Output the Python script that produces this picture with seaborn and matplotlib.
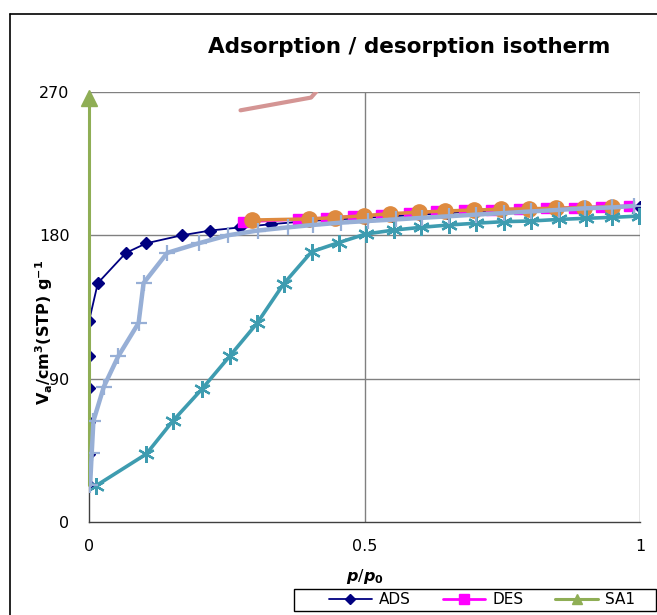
import matplotlib
matplotlib.use("Agg")
import matplotlib.pyplot as plt
from matplotlib.lines import Line2D
from matplotlib.patches import Rectangle
import seaborn as sns
import pandas as pd

# ---------------- data ----------------
ads_x = [0, 0, 0, 0, 0, 0, 0.016, 0.067, 0.104, 0.168, 0.22, 0.274, 0.33, 0.4, 0.45,
         0.5, 0.55, 0.6, 0.65, 0.7, 0.75, 0.8, 0.85, 0.9, 0.95, 1.0]
ads_y = [23, 43, 63, 84, 104, 126, 150, 169, 175, 180, 183, 185, 187, 189, 190,
         191, 192, 193, 194, 195, 195.5, 196, 196.5, 197, 197.5, 198]

des_x = [0.28, 0.38, 0.43, 0.48, 0.53, 0.58, 0.63, 0.68, 0.73, 0.78, 0.83, 0.88, 0.93, 0.98]
des_y = [188.5, 190, 191, 192, 193, 194, 195, 195.7, 196.2, 196.6, 197, 197.4, 198, 198.6]

sa1_x = [0, 0]
sa1_y = [23, 266]

s4_x = [0.296, 0.399, 0.447, 0.499, 0.547, 0.599, 0.647, 0.699, 0.747, 0.799, 0.847, 0.899, 0.95]
s4_y = [189.6, 190.3, 191.1, 192.3, 193.6, 194.5, 195.3, 195.9, 196.3, 196.7, 197, 197.4, 198]

s5_x = [0.275, 0.403, 0.45]
s5_y = [258.5, 266.5, 285]

s6_x = [0.012, 0.104, 0.152, 0.205, 0.255, 0.305, 0.353, 0.404, 0.453, 0.502, 0.553,
        0.602, 0.653, 0.702, 0.753, 0.802, 0.853, 0.902, 0.95, 0.999]
s6_y = [22.6, 42.7, 63.4, 83.5, 104, 124.8, 149.4, 169.7, 175.4, 180.8, 183.3,
        185, 186.5, 187.6, 188.6, 189, 190, 190.7, 191.3, 192.1]

s7_x = [0.002, 0.005, 0.008, 0.027, 0.053, 0.09, 0.099, 0.142, 0.199, 0.252, 0.306,
        0.361, 0.406, 0.458, 0.506, 0.557, 0.605, 0.654, 0.702, 0.754, 0.802, 0.853,
        0.901, 0.95, 0.989]
s7_y = [23, 43.5, 63.4, 85, 104, 125, 150, 169, 175, 180, 183, 185, 186.5, 188, 189,
        190, 191, 192, 193, 194, 195, 196, 197, 197.5, 198.5]

y_ticks = [0, 90, 180, 270]
x_ticks = [0, 0.5, 1]
x_tick_labels = ["0", "0.5", "1"]
legend_labels = ["ADS", "DES", "SA1"]

# ---------------- style ----------------
sns.set_style("white")
plt.rcParams["font.family"] = ["DejaVu Sans"]
plt.rcParams["text.color"] = "black"
plt.rcParams["axes.labelcolor"] = "black"
plt.rcParams["mathtext.fontset"] = "custom"
plt.rcParams["mathtext.rm"] = "DejaVu Sans"
plt.rcParams["mathtext.it"] = "DejaVu Sans:italic"
plt.rcParams["mathtext.bf"] = "DejaVu Sans:bold"
plt.rcParams["mathtext.bfit"] = "DejaVu Sans:bold:italic"

W, H = 657, 615
fig = plt.figure(figsize=(W / 100, H / 100), dpi=100)
ax = fig.add_axes([89 / W, 1 - 522 / H, (640 - 89) / W, (522 - 92) / H])

def draw(x, y, color, lw, marker, ms, z, mew=1.0, clip=True, markevery=None):
    df = pd.DataFrame({"x": x, "y": y})
    sns.lineplot(data=df, x="x", y="y", ax=ax, sort=False, estimator=None,
                 color=color, linewidth=lw, marker=marker, markersize=ms,
                 markeredgecolor=color, markerfacecolor=color,
                 markeredgewidth=mew, zorder=z, clip_on=clip, markevery=markevery)

draw(ads_x, ads_y, "#000080", 1.3, "D", 6.5, 3)
draw(des_x, des_y, "#FF00FF", 2.0, "s", 7.5, 4)
draw(sa1_x, sa1_y, "#8FAE55", 2.2, "^", 12, 5, clip=False, markevery=[1])
draw(s4_x, s4_y, "#DE8A3F", 2.5, "o", 11, 6)
draw(s5_x, s5_y, "#D49594", 3.0, None, 0, 7)
draw(s6_x, s6_y, "#3E9CB0", 2.6, (6, 2, 0), 12, 8, mew=1.6)
draw(s7_x, s7_y, "#97AFD6", 3.2, "+", 11, 9, mew=1.6)

ax.set_xlim(0, 1)
ax.set_ylim(0, 270)
ax.set_xticks(x_ticks)
ax.set_xticklabels(x_tick_labels)
ax.set_yticks(y_ticks)
ax.tick_params(axis="both", direction="out", length=6, width=1, color="#404040",
               labelsize=11.5, labelcolor="black")
ax.tick_params(axis="y", pad=8)
ax.tick_params(axis="x", pad=6)

# gridlines
for yv in [90, 180, 270]:
    ax.axhline(yv, color="#808080", lw=1.0, zorder=1)
ax.axvline(0.5, color="#808080", lw=1.0, zorder=1)
ax.axvline(1.0, color="#808080", lw=1.0, zorder=1)

for s in ["top", "right"]:
    ax.spines[s].set_visible(False)
for s in ["left", "bottom"]:
    ax.spines[s].set_color("#404040")
    ax.spines[s].set_linewidth(1.0)
    ax.spines[s].set_zorder(2)

ax.set_xlabel(r"$\mathbfit{p}$/$\mathbfit{p}_\mathbf{0}$", fontsize=11.5, color="black")
ax.xaxis.set_label_coords(0.5, -0.105)
ax.set_ylabel(r"$\mathbf{V_a}$/cm$^{\mathbf{3}}$(STP) g$^{\mathbf{-1}}$",
              fontsize=11.5, fontweight="bold", color="black")
ax.yaxis.set_label_coords(-0.062, 0.44)

fig.text(409 / W, 1 - 47 / H, "Adsorption / desorption isotherm",
         fontsize=15.5, fontweight="bold", ha="center", va="center", color="black")

# legend
handles = [
    Line2D([], [], color="#000080", lw=1.3, marker="D", markersize=5.5),
    Line2D([], [], color="#FF00FF", lw=2.0, marker="s", markersize=7),
    Line2D([], [], color="#8FAE55", lw=2.2, marker="^", markersize=7),
]
leg = fig.legend(handles, legend_labels, loc="center",
                 bbox_to_anchor=(482 / W, 1 - 600 / H),
                 ncol=3, fontsize=11, frameon=False, labelcolor="black",
                 borderpad=0.0, handlelength=2.8, columnspacing=2.1,
                 handletextpad=0.45, borderaxespad=0)
fig.add_artist(Rectangle((294 / W, 1 - 611 / H), (656 - 294) / W, 22 / H,
                         transform=fig.transFigure, fill=False, edgecolor="black",
                         lw=1.0))

# outer chart border
fig.add_artist(Line2D([10 / W, 1], [1 - 14 / H, 1 - 14 / H], color="black", lw=1.2,
                      transform=fig.transFigure))
fig.add_artist(Line2D([10 / W, 10 / W], [0, 1 - 14 / H], color="black", lw=1.2,
                      transform=fig.transFigure))

fig.savefig("out.png", dpi=100)
